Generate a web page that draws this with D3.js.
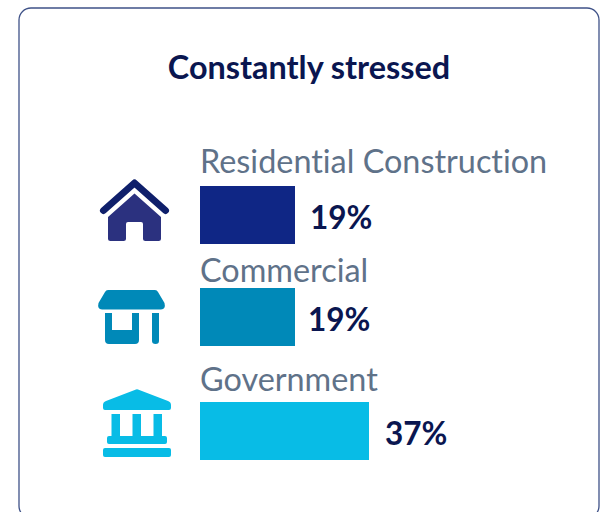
<!DOCTYPE html>
<html>
<head>
<meta charset="utf-8">
<script src="https://cdn.jsdelivr.net/npm/d3@7"></script>
<style>
  html, body { margin: 0; padding: 0; background: #fff; overflow: hidden; }
  text { font-family: Lato, sans-serif; font-variant-ligatures: none; }
</style>
</head>
<body>
<div id="chart"></div>
<script>
const title = "Constantly stressed";
const categories = ["Residential Construction", "Commercial", "Government"];
const values = [19, 19, 37];
const barColors = ["#0f2685", "#0089b8", "#08bce6"];
const iconColors = ["#2b317f", "#0089b8", "#08bce6"];

function init() {
  const width = 603, height = 512;

  const svg = d3
    .select("#chart")
    .append("svg")
    .attr("width", width)
    .attr("height", height)
    .style("display", "block");

  // card
  svg
    .append("rect")
    .attr("x", 19)
    .attr("y", 8)
    .attr("width", 580)
    .attr("height", 510)
    .attr("rx", 12)
    .attr("fill", "#fff")
    .attr("stroke", "#3f5288")
    .attr("stroke-width", 1.3);

  svg
    .append("text")
    .attr("x", 309)
    .attr("y", 79)
    .attr("text-anchor", "middle")
    .attr("fill", "#0a1650")
    .style("font-size", "32.4px")
    .style("font-weight", 700)
    .text(title);

  // bar lengths in the picture are not proportional from zero, so go through both read points
  const x = d3.scaleLinear().domain([19, 37]).range([95, 169]);
  const y = d3.scaleOrdinal().domain(categories).range([186, 288, 402]);
  const labelY = d3.scaleOrdinal().domain(categories).range([173, 282, 391]);
  const valueGap = d3.scaleOrdinal().domain(categories).range([15, 13, 16]);
  const rows = categories.map(function (c, i) {
    return { category: c, value: values[i], color: barColors[i] };
  });

  svg
    .selectAll(".bar")
    .data(rows)
    .enter()
    .append("rect")
    .attr("class", "bar")
    .attr("x", 200)
    .attr("y", function (d) { return y(d.category); })
    .attr("width", function (d) { return x(d.value); })
    .attr("height", 58)
    .attr("fill", function (d) { return d.color; });

  svg
    .selectAll(".cat")
    .data(rows)
    .enter()
    .append("text")
    .attr("class", "cat")
    .attr("x", 200)
    .attr("y", function (d) { return labelY(d.category); })
    .attr("fill", "#5f7289")
    .style("font-size", "32.4px")
    .text(function (d) { return d.category; });

  svg
    .selectAll(".val")
    .data(rows)
    .enter()
    .append("text")
    .attr("class", "val")
    .attr("x", function (d) { return 200 + x(d.value) + valueGap(d.category); })
    .attr("y", function (d) { return y(d.category) + 43; })
    .attr("fill", "#0a1650")
    .style("font-size", "31.5px")
    .style("font-weight", 700)
    .text(function (d) { return d.value + "%"; });

  // house icon
  const house = svg.append("g").attr("fill", iconColors[0]);
  house
    .append("path")
    .attr("fill", "none")
    .attr("stroke", "#0f1f6b")
    .attr("stroke-width", 7)
    .attr("stroke-linecap", "round")
    .attr("stroke-linejoin", "round")
    .attr("d", "M103.5,210.5L134.5,183L165.5,210.5");
  house
    .append("path")
    .attr("d", "M134.5,193.5L161,217V238.5Q161,241 158.5,241H145.5Q143,241 143,238.5V224Q143,222 141,222H128Q126,222 126,224V238.5Q126,241 123.5,241H110.5Q108,241 108,238.5V217Z");

  // shop icon
  const shop = svg.append("g").attr("fill", iconColors[1]);
  shop
    .append("path")
    .attr("d", "M108,290H155Q157,290 158,292L164.500,303Q166,309 161,309.500H102Q97,309 98.500,303L105,292Q106,290 108,290Z");
  shop
    .append("path")
    .attr("d", "M105,313H112V330H132V313H139V340Q139,344 135,344H109Q105,344 105,340Z");
  shop
    .append("path")
    .attr("d", "M152,313H159V341Q159,344 155.500,344Q152,344 152,341Z");

  // government icon
  const bank = svg.append("g").attr("fill", iconColors[2]);
  bank
    .append("path")
    .attr("d", "M136,389.500Q137,389 138,389.500L168,401Q171,402 171,405V408Q171,410 169,410H105Q103,410 103,408V405Q103,402 106,401Z");
  bank
    .append("path")
    .attr("d", "M111.500,414H120V436H132.500V414H141V436H153.500V414H162V436H165Q167,436 167,438V442Q167,444 165,444H109Q107,444 107,442V438Q107,436 109,436H111.500Z");
  bank
    .append("rect")
    .attr("x", 103)
    .attr("y", 448)
    .attr("width", 68)
    .attr("height", 9)
    .attr("rx", 2);
}

window.onload = init;
</script>
</body>
</html>
